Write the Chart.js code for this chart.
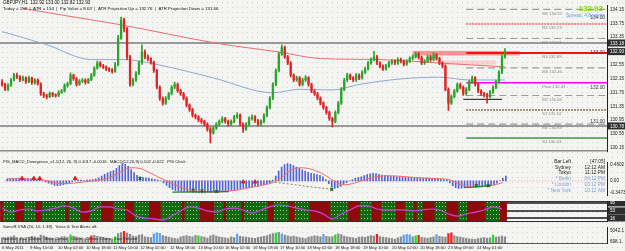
<!DOCTYPE html>
<html>
<head>
<meta charset="utf-8">
<title>GBPJPY,H1</title>
<script src="https://cdn.jsdelivr.net/npm/chart.js@4.4.1/dist/chart.umd.min.js"></script>
<style>
  html, body { margin: 0; padding: 0; }
  body {
    width: 625px; height: 251px; overflow: hidden; position: relative;
    background-color: #f4f4f2;
    background-image: radial-gradient(circle, #d0d0d0 0.6px, transparent 0.9px);
    background-size: 5px 5px;
  }
  canvas { position: absolute; left: 0; }
</style>
</head>
<body>
<canvas id="mainChart" width="625" height="157" style="top:0"></canvas>
<canvas id="macdChart" width="625" height="44" style="top:157px"></canvas>
<canvas id="regimeChart" width="625" height="21" style="top:201px"></canvas>
<canvas id="volumeChart" width="625" height="29" style="top:222px"></canvas>
<script>
// ---- data (one slot ~ 1.7 h) ----
// [open, high, low, close]
const candles = [
  [132.05,132.12,131.93,131.98],[131.98,132.02,131.80,131.84],[131.84,132.00,131.80,131.95],[131.95,132.16,131.92,132.11],
  [132.11,132.30,132.08,132.25],[132.25,132.31,132.15,132.20],[132.20,132.24,132.06,132.11],[132.11,132.22,132.08,132.17],
  [132.17,132.20,132.01,132.06],[132.06,132.22,132.03,132.17],[132.17,132.19,131.98,132.03],[132.03,132.15,131.99,132.11],
  [132.11,132.14,131.96,132.00],[132.00,132.03,131.66,131.71],[131.71,131.76,131.60,131.66],[131.66,131.70,131.56,131.63],
  [131.63,131.77,131.60,131.72],[131.72,131.75,131.63,131.68],[131.68,131.71,131.61,131.66],[131.66,131.80,131.63,131.75],
  [131.75,131.84,131.72,131.79],[131.79,132.00,131.76,131.95],[131.95,132.05,131.90,132.00],[132.00,132.32,131.97,132.25],
  [132.25,132.28,132.10,132.15],[132.15,132.18,131.93,131.98],[131.98,132.12,131.95,132.08],[132.08,132.15,132.03,132.11],
  [132.11,132.14,131.99,132.04],[132.04,132.16,132.01,132.12],[132.12,132.30,132.09,132.25],[132.25,132.50,132.22,132.45],
  [132.45,132.66,132.42,132.60],[132.60,132.64,132.48,132.52],[132.52,132.56,132.44,132.48],[132.48,132.52,132.38,132.43],
  [132.43,132.47,132.35,132.40],[132.40,132.44,132.31,132.36],[132.36,132.62,132.33,132.55],[132.55,133.40,132.52,133.32],
  [133.32,133.93,133.28,133.85],[133.85,133.90,133.50,133.59],[133.59,133.63,132.70,132.78],[132.78,132.82,131.92,131.98],
  [131.98,132.16,131.94,132.11],[132.11,132.35,132.07,132.30],[132.30,132.66,132.26,132.60],[132.60,133.13,132.56,132.92],
  [132.92,132.98,132.72,132.78],[132.78,132.84,132.66,132.72],[132.72,132.76,132.57,132.62],[132.62,132.66,132.33,132.38],
  [132.38,132.42,131.85,131.90],[131.90,131.94,131.52,131.58],[131.58,131.62,131.38,131.44],[131.44,131.63,131.40,131.58],
  [131.58,131.75,131.54,131.71],[131.71,131.95,131.68,131.90],[131.90,132.05,131.86,131.98],[131.98,132.02,131.75,131.80],
  [131.80,131.84,131.66,131.71],[131.71,131.75,131.53,131.58],[131.58,131.62,131.33,131.38],[131.38,131.42,131.20,131.25],
  [131.25,131.29,131.04,131.09],[131.09,131.13,130.98,131.04],[131.04,131.08,130.90,130.96],[130.96,131.00,130.85,130.91],
  [130.91,130.95,130.78,130.83],[130.83,130.87,130.63,130.69],[130.69,130.74,130.29,130.58],[130.58,130.77,130.54,130.72],
  [130.72,130.88,130.68,130.83],[130.83,130.96,130.79,130.91],[130.91,131.05,130.87,130.99],[130.99,131.03,130.86,130.91],
  [130.91,130.95,130.78,130.83],[130.83,130.96,130.79,130.91],[130.91,131.09,130.87,131.04],[131.04,131.17,131.00,131.09],
  [131.09,131.13,130.78,130.83],[130.83,130.87,130.59,130.69],[130.69,130.88,130.65,130.83],[130.83,131.04,130.79,130.99],
  [130.99,131.10,130.95,131.04],[131.04,131.08,130.88,130.93],[130.93,130.97,130.78,130.83],[130.83,130.96,130.79,130.91],
  [130.91,131.14,130.87,131.09],[131.09,131.36,131.05,131.31],[131.31,131.63,131.27,131.58],[131.58,132.03,131.54,131.98],
  [131.98,132.43,131.94,132.38],[132.38,132.91,132.34,132.86],[132.86,133.13,132.82,133.05],[133.05,133.09,132.73,132.78],
  [132.78,132.82,132.55,132.60],[132.60,132.64,132.20,132.25],[132.25,132.29,132.06,132.11],[132.11,132.22,132.07,132.17],
  [132.17,132.21,131.93,131.98],[131.98,132.16,131.94,132.11],[132.11,132.24,132.07,132.17],[132.17,132.21,131.93,131.98],
  [131.98,132.02,131.74,131.79],[131.79,131.83,131.66,131.71],[131.71,131.75,131.53,131.58],[131.58,131.62,131.39,131.44],
  [131.44,131.48,131.26,131.31],[131.31,131.35,131.12,131.17],[131.17,131.21,130.94,130.99],[130.99,131.03,130.75,130.91],
  [130.91,131.22,130.87,131.17],[131.17,131.49,131.13,131.44],[131.44,131.89,131.40,131.84],[131.84,132.16,131.80,132.11],
  [132.11,132.30,132.07,132.25],[132.25,132.29,132.12,132.17],[132.17,132.21,132.06,132.11],[132.11,132.30,132.07,132.25],
  [132.25,132.29,132.12,132.17],[132.17,132.38,132.13,132.33],[132.33,132.48,132.29,132.43],[132.43,132.65,132.39,132.60],
  [132.60,132.75,132.56,132.70],[132.70,132.94,132.66,132.78],[132.78,132.82,132.55,132.60],[132.60,132.64,132.46,132.51],
  [132.51,132.55,132.38,132.43],[132.43,132.56,132.39,132.51],[132.51,132.65,132.47,132.60],[132.60,132.70,132.56,132.65],
  [132.65,132.69,132.55,132.60],[132.60,132.75,132.56,132.70],[132.70,132.74,132.60,132.65],[132.65,132.69,132.52,132.57],
  [132.57,132.70,132.53,132.65],[132.65,132.78,132.61,132.73],[132.73,132.83,132.69,132.78],[132.78,132.92,132.74,132.86],
  [132.86,132.90,132.71,132.76],[132.76,132.80,132.55,132.60],[132.60,132.70,132.56,132.65],[132.65,132.83,132.61,132.78],
  [132.78,132.82,132.65,132.70],[132.70,132.90,132.66,132.84],[132.84,132.88,132.68,132.73],[132.73,132.77,132.55,132.60],
  [132.60,132.64,132.46,132.51],[132.51,132.55,131.79,131.84],[131.84,131.88,131.23,131.44],[131.44,131.68,131.40,131.63],
  [131.63,131.84,131.59,131.79],[131.79,132.03,131.75,131.98],[131.98,132.02,131.85,131.90],[131.90,131.94,131.66,131.71],
  [131.71,131.89,131.67,131.84],[131.84,132.11,131.80,132.06],[132.06,132.22,132.02,132.17],[132.17,132.21,131.93,131.98],
  [131.98,132.02,131.74,131.79],[131.79,131.83,131.66,131.71],[131.71,131.75,131.62,131.68],[131.68,131.72,131.44,131.63],
  [131.63,131.81,131.59,131.76],[131.76,131.95,131.72,131.90],[131.90,132.11,131.86,132.06],[132.06,132.38,132.02,132.33],
  [132.33,132.83,132.29,132.78],[132.78,133.02,132.74,132.93]
];

const blueMaSlots  = [0, 15, 30, 41, 53, 71, 91, 100, 111, 120, 134, 147, 157, 169];
const blueMaValues = [133.51, 133.13, 132.70, 132.70, 132.54, 132.17, 131.74, 131.84, 131.82, 131.98, 132.14, 132.19, 132.11, 132.11];
const redMaSlots   = [7, 20, 39, 73, 93, 107, 127, 147, 169];
const redMaValues  = [134.18, 133.99, 133.72, 133.16, 132.92, 132.73, 132.70, 132.60, 132.49];

const priceTicks  = [134.15, 133.75, 133.35, 132.95, 132.55, 132.15, 131.75, 131.35, 130.95, 130.55, 130.15];
const pivotNames  = ['M5', 'R2', 'M4', 'R1', 'M3', 'Pivot', 'M2', 'S1', 'M1', 'S2'];
const pivotValues = [134.15, 133.73, 133.31, 132.89, 132.46, 132.03, 131.66, 131.24, 130.83, 130.43];
const roundLevels = [134, 133, 132, 131];
const levelLines  = [133.18, 130.78];
const lastPrice   = 132.93;

const macdHist = [
  0.05,0.06,0.07,0.07,0.08,0.08,0.07,0.07,0.06,0.06,0.05,0.04,
  0.01,-0.03,-0.07,-0.10,-0.13,-0.14,-0.13,-0.11,-0.09,-0.06,-0.03,
  0.01,0.03,0.02,0.01,0.02,0.03,0.04,
  0.06,0.09,0.14,0.19,0.23,0.27,0.30,
  0.36,0.44,0.50,
  0.48,0.42,0.33,0.24,0.16,
  0.12,0.10,0.09,0.08,0.06,0.04,0.02,0.00,
  -0.06,-0.13,-0.20,-0.25,
  -0.28,-0.30,-0.31,-0.31,-0.32,-0.33,-0.34,-0.34,-0.35,-0.35,-0.35,-0.34,-0.34,-0.33,-0.33,-0.32,-0.31,-0.30,-0.29,-0.28,
  -0.26,-0.25,-0.23,-0.21,-0.20,-0.19,-0.18,-0.16,-0.15,-0.13,-0.11,-0.09,-0.06,
  0.02,0.14,0.28,
  0.40,0.47,0.50,0.48,
  0.44,0.40,0.36,0.32,0.28,0.25,0.22,0.20,0.18,0.16,0.12,
  0.04,-0.08,-0.18,-0.22,
  -0.20,-0.16,-0.10,-0.05,0.00,0.04,0.08,0.10,0.12,
  0.15,0.18,0.20,0.22,0.21,0.19,0.17,
  0.15,0.14,0.13,0.13,0.12,0.12,0.11,0.11,0.10,0.10,0.09,0.09,0.09,0.08,0.08,0.08,0.07,0.07,0.06,0.05,0.04,0.02,
  -0.06,-0.14,-0.20,-0.22,
  -0.21,-0.20,-0.20,-0.19,-0.18,-0.17,-0.17,-0.16,-0.16,-0.15,-0.14,-0.12,
  -0.07,0.00,0.07,0.14
];
// signal line, every third slot
const macdSignal = [
  0.06,0.06,0.05,0.05,0.03,-0.03,-0.08,-0.08,-0.05,-0.02,
  0.00,0.05,0.15,0.28,0.38,0.36,0.25,0.12,0.00,-0.12,
  -0.22,-0.28,-0.32,-0.33,-0.32,-0.30,-0.27,-0.22,-0.17,-0.12,
  -0.05,0.10,0.30,0.38,0.36,0.28,0.15,-0.02,-0.12,-0.08,
  0.00,0.08,0.13,0.15,0.14,0.12,0.10,0.08,0.07,0.06,
  0.03,-0.08,-0.16,-0.18,-0.16,-0.12,-0.05
];
const macdTicks = [0.4602, 0, -0.3473];
const redMarkSlots   = [5, 9, 11, 23, 80, 84];
const redMarkValues  = [0.07, 0.07, 0.07, 0.07, -0.03, -0.03];
const greenMarkSlots  = [45, 63, 66, 71, 110, 159, 163];
const greenMarkValues = [0.07, -0.27, -0.29, -0.31, -0.25, -0.14, -0.14];
const bullDivSlots  = [[56, 75], [155, 164]];
const bullDivValues = [[-0.33, -0.31], [-0.20, -0.14]];
const bearDivSlots  = [88, 110];
const bearDivValues = [-0.01, -0.25];

// trend panel: green runs (slot ranges), the rest is red; oscillator every third slot
const greenRuns = [[1,4],[8,11],[14,21],[23,26],[30,33],[38,41],[45,49],[54,60],[62,66],[72,74],[76,80],
  [82,89],[92,96],[99,103],[111,116],[121,124],[128,132],[136,138],[140,141],[146,149],[154,156],[163,167]];
const oscLine = [68,47,58,63,53,58,68,79,68,47,53,74,74,63,58,26,16,11,5,26,53,74,68,53,47,63,68,58,42,58,
  74,84,79,68,58,53,37,11,37,58,79,79,63,58,58,58,53,58,63,58,37,26,37,47,58,74,63];
const trendLevels = [95, 53, 16];

const volumes = [
  2100,1800,2400,2600,3000,2200,1900,1700,1500,2300, 2800,2500,2200,3300,3000,2400,2100,1900,1600,1800,
  2500,2700,2300,3400,2900,2600,2200,2000,1700,2100, 3000,3200,2800,2500,2300,2000,1800,1700,2600,3900,
  4300,4800,4100,3600,2900,2700,3300,3500,2600,2400, 2200,3800,4200,4000,3100,2800,2400,2100,1900,1700,
  2600,2900,3100,2800,2500,3200,3000,2700,2400,2000, 3000,3400,2900,2600,2300,2100,1800,2500,2200,3700,
  2800,2600,2400,2200,2000,1900,2300,2500,2800,3100, 3500,3900,4100,4400,3800,3300,3000,2700,2900,2500,
  2200,2000,1800,2400,2700,3000,2900,2600,3600,2800, 2500,2700,3400,3800,3500,2900,2600,2300,2100,1900,
  2400,2600,2300,2800,3100,2900,3600,2700,2400,2200, 2000,1800,1600,2100,2500,3300,3600,3400,2500,3000,
  3200,2300,2100,1900,2200,2600,3500,2800,2600,2400, 3900,4200,3000,2700,2400,2100,1900,1700,1600,1500,
  1800,2000,2200,1900,2100,3300,2400,2600,2900,2500
];
const volRed   = [30, 41, 126, 140, 150, 151];
const volGreen = [23, 38, 66, 92, 112, 139, 165];
const volBlue  = [51, 52, 53, 79, 94, 108, 135, 136, 137, 146];
const volTicks = [5042.1, 698.1];

const dateLabels = ['6 May 2011','9 May 10:00','10 May 02:00','10 May 18:00','11 May 10:00','12 May 02:00',
  '12 May 18:00','13 May 10:00','16 May 02:00','16 May 18:00','17 May 10:00','18 May 02:00','18 May 18:00',
  '19 May 10:00','20 May 02:00','20 May 18:00','23 May 09:00','24 May 01:00'];
const dateSlots = [0, 9.4, 18.8, 28.2, 37.3, 46.4, 56.4, 65.9, 74.9, 84.3, 93.4, 102.5, 111.9, 121.3, 131.1, 140.5, 149.9, 159.6];

const clockNames = ['Bar Left', 'Sydney', 'Tokyo', '* Berlin', '* London', '* New York'];
const clockTimes = ['[47:05]', '12:12 AM', '11:12 PM', '04:12 PM', '03:12 PM', '10:12 AM'];

// ---- helpers ----
const FONT = "'Liberation Sans', Arial, sans-serif";
const SLOT_MIN = -0.7, SLOT_MAX = 203.3;
const AXIS_W = 18;

function put(ctx, str, x, y, color, size, align, weight) {
  ctx.save();
  ctx.font = (weight || 'normal') + ' ' + size + 'px ' + FONT;
  ctx.fillStyle = color;
  ctx.textAlign = align || 'left';
  ctx.textBaseline = 'middle';
  ctx.fillText(str, x, y);
  ctx.restore();
}
function hline(ctx, x1, x2, y, color, w, dash) {
  ctx.save();
  ctx.strokeStyle = color; ctx.lineWidth = w; ctx.setLineDash(dash || []);
  ctx.beginPath(); ctx.moveTo(x1, y); ctx.lineTo(x2, y); ctx.stroke();
  ctx.restore();
}
function tag(ctx, str, y, left) {
  ctx.save();
  ctx.fillStyle = '#2e2e2e';
  ctx.fillRect(left + 1, y - 3.5, 625 - left, 7);
  ctx.restore();
  put(ctx, str, left + 3, y + 0.3, '#ffffff', 4.6);
}
function xAxis() {
  return { type: 'linear', min: SLOT_MIN, max: SLOT_MAX, offset: false, display: false };
}
function rightAxis(min, max, tickValues, fmt, show) {
  return {
    position: 'right', min: min, max: max,
    grid: { display: false, drawTicks: false },
    border: { display: true, color: '#222', width: 1 },
    ticks: { display: show, autoSkip: false, padding: 3, color: '#222', font: { family: FONT, size: 4.6 }, callback: fmt },
    afterBuildTicks: s => { s.ticks = tickValues.map(v => ({ value: v })); },
    afterFit: s => { s.width = AXIS_W; }
  };
}
const baseOpts = {
  responsive: false, animation: false, events: [],
  layout: { padding: 0 },
  plugins: { legend: { display: false }, tooltip: { enabled: false } }
};

// ---- main price panel ----
const isBull = c => c[3] >= c[0];
const candleColors = candles.map(c => isBull(c) ? '#2aa52a' : '#e02424');

function pivotStyle(name) {
  if (name === 'R1') return { c: '#ff1010', w: 2, d: [] };
  if (name === 'R2') return { c: '#ff5c5c', w: 1.6, d: [2, 1] };
  if (name === 'Pivot') return { c: '#ff00ff', w: 1.5, d: [] };
  if (name === 'S1') return { c: '#5b4d1c', w: 1.5, d: [1.5, 1.5] };
  if (name === 'S2') return { c: '#3c9a3c', w: 1.5, d: [] };
  return { c: '#9c9c9c', w: 1.2, d: [7, 4] };
}

const mainDecor = {
  id: 'mainDecor',
  beforeDatasetsDraw(chart) {
    const { ctx, chartArea: a, scales: { x, y } } = chart;
    ctx.save();
    ctx.beginPath(); ctx.rect(a.left, a.top, a.width, a.height); ctx.clip();
    levelLines.forEach(v => hline(ctx, a.left, a.right, y.getPixelForValue(v), '#7d7d7d', 1.5));
    // hatched resistance zone and a lighter one below it
    ctx.fillStyle = 'rgba(255,70,70,0.55)';
    ctx.fillRect(x.getPixelForValue(138), y.getPixelForValue(132.95), x.getPixelForValue(174) - x.getPixelForValue(138),
      y.getPixelForValue(132.82) - y.getPixelForValue(132.95));
    ctx.fillStyle = 'rgba(255,140,140,0.3)';
    ctx.fillRect(x.getPixelForValue(148), y.getPixelForValue(132.68), x.getPixelForValue(166) - x.getPixelForValue(148),
      y.getPixelForValue(132.55) - y.getPixelForValue(132.68));
    const x0 = x.getPixelForValue(156);
    pivotNames.forEach((n, i) => {
      const s = pivotStyle(n);
      hline(ctx, x0, a.right, y.getPixelForValue(pivotValues[i]), s.c, s.w, s.d);
    });
    hline(ctx, x.getPixelForValue(155), x.getPixelForValue(168), y.getPixelForValue(131.55), '#111', 1);
    ctx.restore();
  },
  afterDraw(chart) {
    const { ctx, chartArea: a, scales: { x, y } } = chart;
    put(ctx, 'GBPJPY,H1  132.92 133.00 132.82 132.93', 3, 3, '#111', 4.6);
    put(ctx, 'Today = 158  |  ATR = 154  |  Pip Value = 8.63  |  ATR Projection Up = 132.76  |  ATR Projection Down = 131.66',
      3, 8.5, '#111', 4.4);
    const lx = x.getPixelForValue(181.5);
    pivotNames.forEach((n, i) => {
      put(ctx, n + ' ' + pivotValues[i].toFixed(2), lx, y.getPixelForValue(pivotValues[i]) + 4, '#8a8a8a', 4.2);
    });
    roundLevels.forEach(v => put(ctx, v.toFixed(2), a.right - 2, y.getPixelForValue(v) + 3.5, '#3a3a3a', 4.8, 'right'));
    put(ctx, lastPrice.toFixed(2), a.right - 4, 8.5, '#78e000', 8, 'right', 'bold');
    put(ctx, 'Spread: 4.8 points', a.right - 2, 15.5, '#6d9bd6', 4.8, 'right');
    levelLines.concat([lastPrice]).forEach(v => tag(ctx, v.toFixed(2), y.getPixelForValue(v), a.right));
    hline(ctx, 0, a.right, a.bottom - 0.5, '#8a8a8a', 1.5);
  }
};

new Chart(document.getElementById('mainChart'), {
  type: 'bar',
  data: {
    datasets: [
      { type: 'bar', data: candles.map((c, i) => ({ x: i, y: [Math.min(c[0], c[3]), Math.max(c[0], c[3])] })),
        backgroundColor: candleColors, barThickness: 1.6, minBarLength: 1, grouped: false, order: 1 },
      { type: 'bar', data: candles.map((c, i) => ({ x: i, y: [c[2], c[1]] })),
        backgroundColor: candleColors, barThickness: 1, grouped: false, order: 2 },
      { type: 'line', data: blueMaSlots.map((s, k) => ({ x: s, y: blueMaValues[k] })), borderColor: '#8ea8d2',
        borderWidth: 1, pointRadius: 0, cubicInterpolationMode: 'monotone', order: 3 },
      { type: 'line', data: redMaSlots.map((s, k) => ({ x: s, y: redMaValues[k] })), borderColor: '#f26a6a',
        borderWidth: 1, pointRadius: 0, cubicInterpolationMode: 'monotone', order: 4 }
    ]
  },
  options: Object.assign({}, baseOpts, {
    scales: { x: xAxis(), y: rightAxis(130.048, 134.257, priceTicks, v => v.toFixed(2), true) }
  }),
  plugins: [mainDecor]
});

// ---- MACD panel ----
const macdDecor = {
  id: 'macdDecor',
  beforeDatasetsDraw(chart) {
    const { ctx, chartArea: a, scales: { y } } = chart;
    hline(ctx, a.left, a.right, y.getPixelForValue(0), '#ff9c9c', 1, [1, 2]);
  },
  afterDraw(chart) {
    const { ctx, chartArea: a } = chart;
    put(ctx, 'PIS_MACD_Divergence_v1.1(12, 26, 9) 0.1017 -0.0016   MACD(12,26,9) 0.102 -0.022   PIS Clock', 3, 4.5, '#222', 4.2);
    clockNames.forEach((n, i) => {
      const c = i < 3 ? '#222' : '#7b9fd0';
      const yy = 4.5 + i * 5.8;
      put(ctx, n, a.right - 36, yy, c, 4.8, 'right');
      put(ctx, clockTimes[i], a.right - 2, yy, c, 4.8, 'right');
    });
  }
};

new Chart(document.getElementById('macdChart'), {
  type: 'bar',
  data: {
    datasets: [
      { type: 'line', data: redMarkSlots.map((s, k) => ({ x: s, y: redMarkValues[k] })), showLine: false,
        pointStyle: 'triangle', pointRadius: 2.2, pointBackgroundColor: '#e51a1a', pointBorderColor: '#e51a1a', order: 0 },
      { type: 'line', data: greenMarkSlots.map((s, k) => ({ x: s, y: greenMarkValues[k] })), showLine: false,
        pointStyle: 'crossRot', pointRadius: 2, pointBorderColor: '#0d6e0d', pointBorderWidth: 1.2, order: 0 },
      ...bullDivSlots.map((seg, k) => ({ type: 'line', data: seg.map((s, j) => ({ x: s, y: bullDivValues[k][j] })),
        borderColor: '#1d8a1d', borderWidth: 1.2, pointRadius: 0, order: 1 })),
      { type: 'line', data: bearDivSlots.map((s, j) => ({ x: s, y: bearDivValues[j] })), borderColor: '#8a8a5a',
        borderWidth: 1, borderDash: [2, 2], pointRadius: 0, order: 1 },
      { type: 'line', data: macdSignal.map((v, k) => ({ x: k * 3, y: v })), borderColor: '#f46b6b', borderWidth: 1,
        pointRadius: 0, cubicInterpolationMode: 'monotone', order: 2 },
      { type: 'bar', data: macdHist.map((v, i) => ({ x: i, y: v })), backgroundColor: '#5563d0',
        barThickness: 1, grouped: false, order: 5 }
    ]
  },
  options: Object.assign({}, baseOpts, {
    scales: { x: xAxis(), y: rightAxis(-0.4176, 0.5246, macdTicks, v => v === 0 ? '0.00' : v.toFixed(4), true) }
  }),
  plugins: [macdDecor]
});

// ---- trend (red / green) panel ----
const regimeCtx = document.getElementById('regimeChart').getContext('2d');
const tile = document.createElement('canvas');
tile.width = 3; tile.height = 4;
const tg = tile.getContext('2d');
tg.fillStyle = '#12690f'; tg.fillRect(0, 0, 3, 4);
tg.fillStyle = '#8fd08a'; tg.fillRect(1, 1, 1, 1);
const greenFill = regimeCtx.createPattern(tile, 'repeat');
const isGreen = i => greenRuns.some(r => i >= r[0] && i <= r[1]);

const regimeDecor = {
  id: 'regimeDecor',
  beforeDatasetsDraw(chart) {
    const { ctx, chartArea: a, scales: { y } } = chart;
    trendLevels.forEach(v => hline(ctx, a.left, a.right, y.getPixelForValue(v), '#1a1a1a', 1.5));
  },
  afterDraw(chart) {
    const { ctx, chartArea: a, scales: { y } } = chart;
    hline(ctx, a.left, a.right, 0.5, '#333', 1);
    hline(ctx, a.left, a.right, a.bottom - 0.5, '#333', 1);
    trendLevels.forEach(v => tag(ctx, v.toFixed(0), y.getPixelForValue(v), a.right));
  }
};

new Chart(regimeCtx, {
  type: 'bar',
  data: {
    datasets: [
      { type: 'line', data: oscLine.map((v, k) => ({ x: k * 3, y: v })), borderColor: '#c844e6', borderWidth: 1.2,
        pointRadius: 0, cubicInterpolationMode: 'monotone', order: 0 },
      { type: 'bar', data: candles.map((c, i) => ({ x: i, y: [0, 100] })),
        backgroundColor: candles.map((c, i) => isGreen(i) ? greenFill : '#8f0b0b'),
        barThickness: 3.3, grouped: false, order: 1 }
    ]
  },
  options: Object.assign({}, baseOpts, {
    scales: { x: xAxis(), y: rightAxis(-5, 105, trendLevels, v => '', false) }
  }),
  plugins: [regimeDecor]
});

// ---- volume panel with the date axis ----
const volColors = volumes.map((v, i) =>
  volRed.includes(i) ? '#ff1a1a' : volGreen.includes(i) ? '#19e019' : volBlue.includes(i) ? '#5fa4ee' : '#8c8c8c');

const volumeDecor = {
  id: 'volumeDecor',
  afterDraw(chart) {
    const { ctx, chartArea: a, scales: { x } } = chart;
    put(ctx, 'SonicR VSA (20, 10, 1.38)   Voice & Text Alerts off.', 3, 5, '#222', 4.2);
    put(ctx, 'Neutral   Bull Climax   Bear Climax   Churn   Climax Churn   Low Volume', 3, 17, '#222', 4.2);
    hline(ctx, 0, a.right, a.bottom + 0.5, '#555', 1);
    dateLabels.forEach((d, i) => put(ctx, d, x.getPixelForValue(dateSlots[i]), a.bottom + 4.5, '#222', 4.2));
  }
};

new Chart(document.getElementById('volumeChart'), {
  type: 'bar',
  data: {
    datasets: [
      { type: 'bar', data: volumes.map((v, i) => ({ x: i, y: v })), backgroundColor: volColors,
        barThickness: 1.6, grouped: false }
    ]
  },
  options: Object.assign({}, baseOpts, {
    layout: { padding: { bottom: 8 } },
    scales: { x: xAxis(), y: rightAxis(0, 6300, volTicks, v => v.toFixed(1), true) }
  }),
  plugins: [volumeDecor]
});
</script>
</body>
</html>
